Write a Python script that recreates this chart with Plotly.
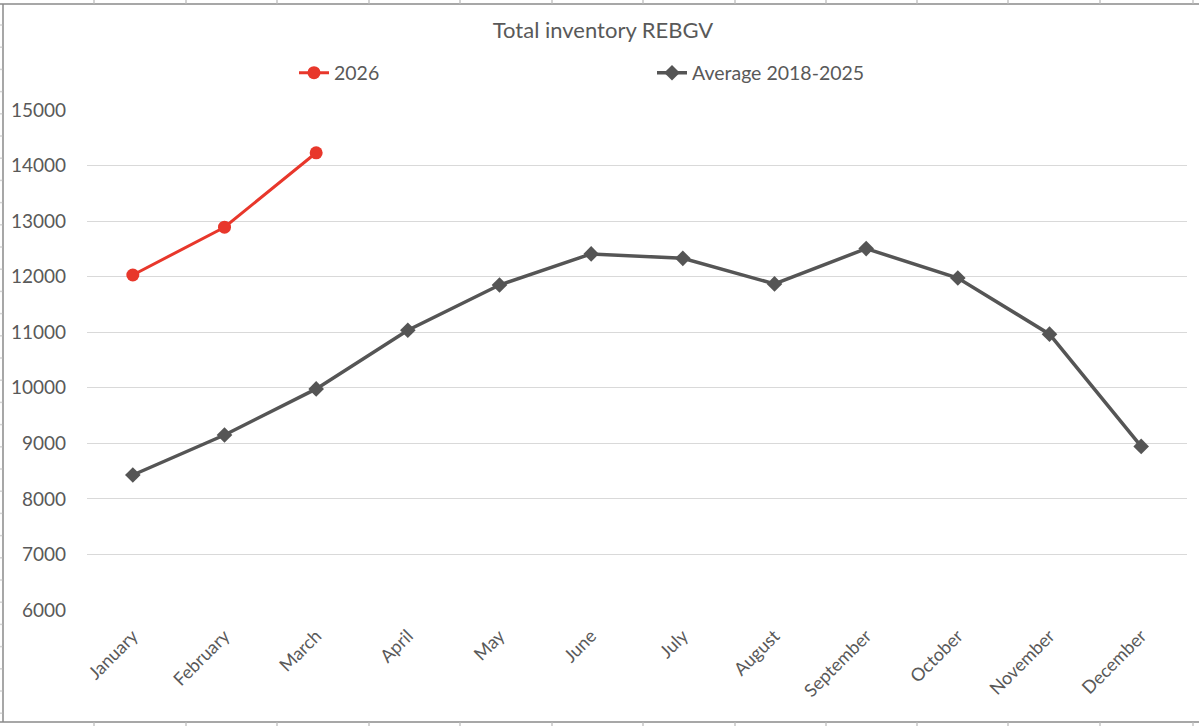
import plotly.graph_objects as go

months = ["January", "February", "March", "April", "May", "June", "July",
          "August", "September", "October", "November", "December"]
inv_2026 = [12030, 12890, 14230]
avg_2018_2025 = [8430, 9150, 9980, 11035, 11850, 12410, 12330, 11870, 12505, 11975, 10965, 8945]
y_ticks = [6000, 7000, 8000, 9000, 10000, 11000, 12000, 13000, 14000, 15000]
y_tick_labels = ["6000", "7000", "8000", "9000", "10000", "11000", "12000", "13000", "14000", "15000"]

W, H = 1199, 726
L, R, T, B = 87, 12, 110, 116
PW, PH = W - L - R, H - T - B


def px(x):
    return (x - L) / PW


def py(y):
    return (H - B - y) / PH


FONT = "Lato"
TXT = "#595959"

fig = go.Figure()
fig.add_trace(go.Scatter(
    x=months[:len(inv_2026)], y=inv_2026, name="2026", mode="lines+markers",
    line=dict(color="#e8372b", width=3),
    marker=dict(symbol="circle", size=13, color="#e8372b"),
    legend="legend",
))
fig.add_trace(go.Scatter(
    x=months, y=avg_2018_2025, name="Average 2018-2025", mode="lines+markers",
    line=dict(color="#555555", width=3.5),
    marker=dict(symbol="diamond", size=12, color="#555555"),
    legend="legend2",
))

shapes = []
line_col = "#8a8a8a"
tick_col = "#d4d4d4"
shapes.append(dict(type="line", xref="paper", yref="paper", x0=px(0), x1=px(W), y0=py(4), y1=py(4),
                   line=dict(color=line_col, width=1.5)))
shapes.append(dict(type="line", xref="paper", yref="paper", x0=px(0), x1=px(W), y0=py(722), y1=py(722),
                   line=dict(color=line_col, width=1.5)))
shapes.append(dict(type="line", xref="paper", yref="paper", x0=px(3), x1=px(3), y0=py(4), y1=py(722),
                   line=dict(color=line_col, width=1.5)))
col_x = [94, 186, 277, 369, 460, 552, 643, 735, 826, 917, 1008, 1100, 1193]
for cx in col_x:
    shapes.append(dict(type="line", xref="paper", yref="paper", x0=px(cx), x1=px(cx), y0=py(0), y1=py(3.3),
                       line=dict(color=tick_col, width=2)))
    shapes.append(dict(type="line", xref="paper", yref="paper", x0=px(cx), x1=px(cx), y0=py(722.8), y1=py(726),
                       line=dict(color=tick_col, width=2)))
ry = 25.0
while ry < 722:
    shapes.append(dict(type="line", xref="paper", yref="paper", x0=px(0), x1=px(2.2), y0=py(ry), y1=py(ry),
                       line=dict(color=tick_col, width=1.5)))
    ry += 22.2

fig.update_layout(
    width=W, height=H,
    margin=dict(l=L, r=R, t=T, b=B),
    paper_bgcolor="white", plot_bgcolor="white",
    font=dict(family=FONT, color=TXT, size=18),
    title=dict(text="Total inventory REBGV", x=px(603), xanchor="center", xref="paper",
               y=1 - 30 / H, yanchor="middle", font=dict(size=22, color=TXT, family=FONT)),
    xaxis=dict(type="category", categoryorder="array", categoryarray=months,
               range=[-0.5, 11.5], showgrid=False, zeroline=False, showline=False,
               tickangle=-45, ticks="", tickfont=dict(size=18, color=TXT), ticklabelstandoff=11),
    yaxis=dict(range=[6000, 15000], tickvals=y_ticks, ticktext=y_tick_labels,
               showgrid=True, gridcolor="#d9d9d9", gridwidth=1.3,
               zeroline=False, showline=False, ticks="", tickfont=dict(size=19, color=TXT),
               ticklabelstandoff=20),
    legend=dict(orientation="h", x=px(294), y=py(73), xanchor="left", yanchor="middle",
                xref="paper", yref="paper", itemwidth=30, font=dict(size=19.5, color=TXT),
                bgcolor="rgba(0,0,0,0)"),
    legend2=dict(orientation="h", x=px(652), y=py(73), xanchor="left", yanchor="middle",
                 xref="paper", yref="paper", itemwidth=30, font=dict(size=19.5, color=TXT),
                 bgcolor="rgba(0,0,0,0)"),
    shapes=shapes,
    showlegend=True,
)

fig.write_html("out.html", config={"displayModeBar": False},
               post_script="document.body.style.margin='0px';document.body.style.overflow='hidden';")
